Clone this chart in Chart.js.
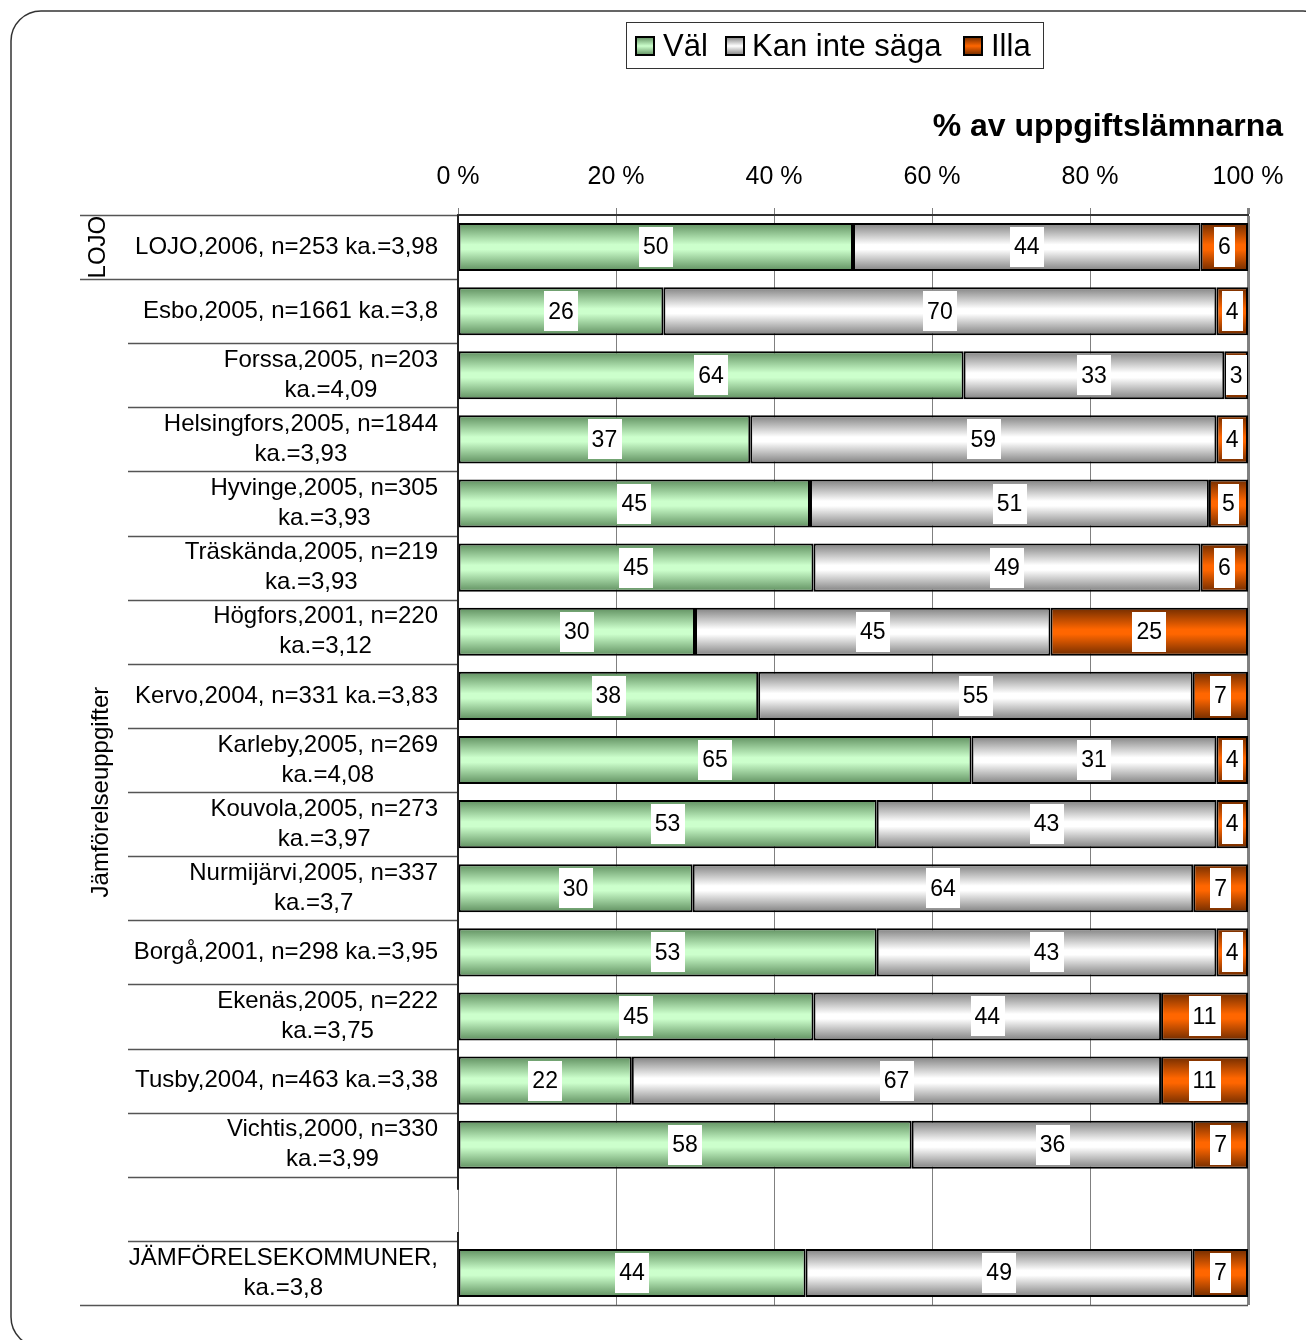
<!DOCTYPE html>
<html>
<head>
<meta charset="utf-8">
<script src="https://cdn.jsdelivr.net/npm/chart.js@4"></script>
<style>
  body { margin: 0; background: #fff; }
  #wrap { width: 1306px; height: 1340px; }
</style>
</head>
<body>
<div id="wrap"><canvas id="bars" width="1306" height="1340"></canvas></div>
<script>
const FONT = "Arial, 'Liberation Sans', sans-serif";

const categories = [
    ['LOJO,2006, n=253 ka.=3,98'],
    ['Esbo,2005, n=1661 ka.=3,8'],
    ['Forssa,2005, n=203', 'ka.=4,09'],
    ['Helsingfors,2005, n=1844', 'ka.=3,93'],
    ['Hyvinge,2005, n=305', 'ka.=3,93'],
    ['Träskända,2005, n=219', 'ka.=3,93'],
    ['Högfors,2001, n=220', 'ka.=3,12'],
    ['Kervo,2004, n=331 ka.=3,83'],
    ['Karleby,2005, n=269', 'ka.=4,08'],
    ['Kouvola,2005, n=273', 'ka.=3,97'],
    ['Nurmijärvi,2005, n=337', 'ka.=3,7'],
    ['Borgå,2001, n=298 ka.=3,95'],
    ['Ekenäs,2005, n=222', 'ka.=3,75'],
    ['Tusby,2004, n=463 ka.=3,38'],
    ['Vichtis,2000, n=330', 'ka.=3,99'],
    [''],
    ['JÄMFÖRELSEKOMMUNER,', 'ka.=3,8']
];

const valWell = [50, 26, 64, 37, 45, 45, 30, 38, 65, 53, 30, 53, 45, 22, 58, null, 44];
const valCant = [44, 70, 33, 59, 51, 49, 45, 55, 31, 43, 64, 43, 44, 67, 36, null, 49];
const valBad  = [6, 4, 3, 4, 5, 6, 25, 7, 4, 4, 7, 4, 11, 11, 7, null, 7];

const seriesNames = ['Väl', 'Kan inte säga', 'Illa'];
const xTicks = [0, 20, 40, 60, 80, 100];

// shading: dark edge -> light middle -> dark edge
const shades = [
    ['#5f8f5f', '#ccffcc'],
    ['#808080', '#ffffff'],
    ['#702c00', '#ff6600']
];

// bars are 100 % stacked: scale every row to its total
function toPct(arr) {
    return arr.map((v, i) => {
        if (v === null) return null;
        const sum = valWell[i] + valCant[i] + valBad[i];
        return v / sum * 100;
    });
}

function shade(idx) {
    return (c) => {
        const chart = c.chart;
        const y = chart.scales.y;
        if (!chart.chartArea || c.dataIndex === undefined || !y) return shades[idx][1];
        const cy = y.getPixelForValue(c.dataIndex);
        const half = Math.abs(y.getPixelForValue(1) - y.getPixelForValue(0)) * 0.75 / 2;
        const g = chart.ctx.createLinearGradient(0, cy - half, 0, cy + half);
        g.addColorStop(0, shades[idx][0]);
        g.addColorStop(0.45, shades[idx][1]);
        g.addColorStop(0.55, shades[idx][1]);
        g.addColorStop(1, shades[idx][0]);
        return g;
    };
}

const rawSeries = [valWell, valCant, valBad];

const frame = {
    id: 'frame',
    beforeDraw(chart) {
        const c = chart.ctx;
        c.save();
        c.fillStyle = '#fff';
        c.fillRect(0, 0, chart.width, chart.height);
        c.strokeStyle = '#333';
        c.lineWidth = 1.5;
        c.beginPath();
        c.roundRect(11, 11, 1322, 1336, 30);
        c.stroke();
        c.restore();
    }
};

const rowLabels = {
    id: 'rowLabels',
    afterDraw(chart) {
        const c = chart.ctx;
        const y = chart.scales.y;
        const area = chart.chartArea;
        const step = y.getPixelForValue(1) - y.getPixelForValue(0);
        const n = categories.length;
        c.save();

        // separators between rows
        c.strokeStyle = '#555';
        c.lineWidth = 1.5;
        for (let i = 0; i <= n; i++) {
            const yy = Math.round(y.getPixelForValue(i) - step / 2) + 0.5;
            let x0 = 128, x1 = area.left;
            if (i === 0 || i === 1) x0 = 80;
            if (i === n) { x0 = 80; x1 = area.right; }
            c.beginPath();
            c.moveTo(x0, yy);
            c.lineTo(x1, yy);
            c.stroke();
        }

        // category axis line, broken at the empty row
        const gapTop = y.getPixelForValue(15) - step / 2 + 13;
        const gapBot = y.getPixelForValue(16) - step / 2 - 9;
        c.strokeStyle = '#222';
        c.lineWidth = 2;
        c.beginPath();
        c.moveTo(area.left, area.top);
        c.lineTo(area.left, gapTop);
        c.moveTo(area.left, gapBot);
        c.lineTo(area.left, area.bottom);
        c.stroke();

        // category labels: lines centred on each other, block right-aligned
        c.fillStyle = '#000';
        c.font = '24px ' + FONT;
        c.textBaseline = 'middle';
        c.textAlign = 'center';
        const lh = 30;
        categories.forEach((lines, i) => {
            const cy = y.getPixelForValue(i);
            const w = Math.max(...lines.map(l => c.measureText(l).width));
            const cx = area.left - 20 - w / 2;
            lines.forEach((l, k) => {
                c.fillText(l, cx, cy + (k - (lines.length - 1) / 2) * lh);
            });
        });

        // group titles
        const rot = (txt, x, cy) => {
            c.save();
            c.translate(x, cy);
            c.rotate(-Math.PI / 2);
            c.fillText(txt, 0, 0);
            c.restore();
        };
        rot('LOJO', 98, y.getPixelForValue(0));
        rot('Jämförelseuppgifter', 101, (y.getPixelForValue(1) + y.getPixelForValue(16)) / 2);

        // axis caption
        c.font = 'bold 32px ' + FONT;
        c.textAlign = 'right';
        c.fillText('% av uppgiftslämnarna', 1283, 127);

        // legend box
        c.strokeStyle = '#333';
        c.lineWidth = 1;
        c.strokeRect(626.5, 22.5, 417, 46);
        c.font = '31px ' + FONT;
        c.textAlign = 'left';
        const items = [[636, 663], [726, 752], [964, 991]];
        items.forEach((p, k) => {
            const g = c.createLinearGradient(0, 37, 0, 55);
            g.addColorStop(0, shades[k][0]);
            g.addColorStop(0.5, shades[k][1]);
            g.addColorStop(1, shades[k][0]);
            c.fillStyle = g;
            c.fillRect(p[0], 37, 18, 18);
            c.strokeStyle = '#000';
            c.lineWidth = 2;
            c.strokeRect(p[0], 37, 18, 18);
            c.fillStyle = '#000';
            c.fillText(seriesNames[k], p[1], 47);
        });
        c.restore();
    }
};

const valueBoxes = {
    id: 'valueBoxes',
    afterDatasetsDraw(chart) {
        const c = chart.ctx;
        c.save();
        c.font = '23px ' + FONT;
        c.textAlign = 'center';
        c.textBaseline = 'middle';
        chart.data.datasets.forEach((ds, i) => {
            const meta = chart.getDatasetMeta(i);
            meta.data.forEach((bar, j) => {
                const raw = rawSeries[i][j];
                if (raw === null || raw === undefined) return;
                const p = bar.getProps(['x', 'y', 'base'], true);
                const cx = (p.x + p.base) / 2;
                const txt = String(raw);
                const w = c.measureText(txt).width + 8;
                c.fillStyle = '#fff';
                c.fillRect(Math.round(cx - w / 2), Math.round(p.y - 20), Math.round(w), 40);
                c.fillStyle = '#000';
                c.fillText(txt, cx, p.y + 1);
            });
        });
        c.restore();
    }
};

new Chart(document.getElementById('bars'), {
    type: 'bar',
    data: {
        labels: categories,
        datasets: rawSeries.map((arr, i) => ({
            label: seriesNames[i],
            data: toPct(arr),
            backgroundColor: shade(i),
            borderColor: '#000',
            borderWidth: 2,
            borderSkipped: false,
            barPercentage: 0.75,
            categoryPercentage: 1
        }))
    },
    options: {
        indexAxis: 'y',
        responsive: false,
        animation: false,
        layout: { padding: { left: 0, right: 58, top: 155, bottom: 35 } },
        plugins: {
            legend: { display: false },
            tooltip: { enabled: false }
        },
        scales: {
            x: {
                position: 'top',
                stacked: true,
                min: 0,
                max: 100,
                afterFit: (s) => { s.height = 60; },
                afterBuildTicks: (s) => { s.ticks = xTicks.map(v => ({ value: v })); },
                ticks: {
                    padding: 16,
                    color: '#000',
                    font: { family: FONT, size: 25 },
                    callback: (v) => v + ' %'
                },
                grid: {
                    color: '#808080',
                    lineWidth: (c) => (c.tick && c.tick.value === 100 ? 3 : 1),
                    tickLength: 7,
                    tickColor: '#808080'
                },
                border: { display: true, color: '#333', width: 2 }
            },
            y: {
                stacked: true,
                afterFit: (s) => { s.width = 458; },
                ticks: { display: false },
                grid: { display: false },
                border: { display: false }
            }
        }
    },
    plugins: [frame, valueBoxes, rowLabels]
});
</script>
</body>
</html>
